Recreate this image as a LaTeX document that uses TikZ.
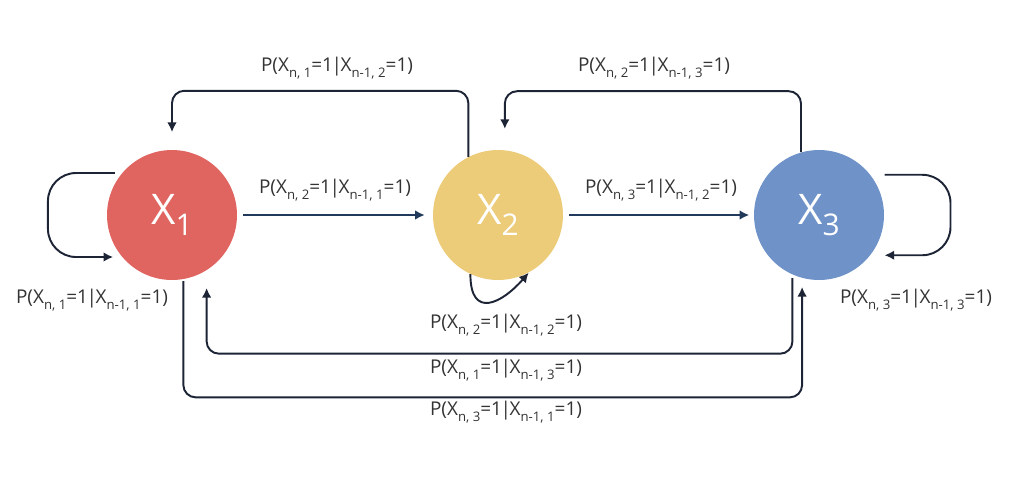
\documentclass[tikz,border=0pt]{standalone}
\usepackage{fontspec}
\setmainfont{Open Sans}
\usetikzlibrary{arrows.meta}

\definecolor{rojo}{HTML}{E0645F}
\definecolor{amarillo}{HTML}{ECCB79}
\definecolor{azul}{HTML}{6F93C9}
\definecolor{flecha}{HTML}{1D2435}
\definecolor{flujo}{HTML}{213A5B}

% subindice bajo
\newcommand{\lowidx}[1]{\raisebox{-0.55ex}{\fontsize{7.5}{7.5}\selectfont #1}}
\newcommand{\barra}{\kern-0.8pt|\kern-0.8pt}

\tikzset{
  estado/.style={circle, inner sep=0pt, minimum size=2.6cm, text=white,
                 font=\fontsize{24}{24}\selectfont},
  enlace/.style={-{Latex[length=5.5pt,width=5.5pt]}, line width=1.1pt, flecha,
                 rounded corners=7pt},
  prob/.style={font=\fontsize{10.8}{12}\selectfont, text=black!80}
}

\begin{document}
\begin{tikzpicture}[x=0.02cm, y=-0.02cm]
    \useasboundingbox (0,0) rectangle (1013,491);

    % Estados
    \node[estado, fill=rojo]     (x1) at (172,215) {X\raisebox{-0.5ex}{\fontsize{17}{17}\selectfont 1}};
    \node[estado, fill=amarillo] (x2) at (498,215) {X\raisebox{-0.5ex}{\fontsize{17}{17}\selectfont 2}};
    \node[estado, fill=azul]     (x3) at (819,215) {X\raisebox{-0.5ex}{\fontsize{17}{17}\selectfont 3}};

    % Transiciones hacia adelante
    \draw[enlace, flujo, shorten <=3.5pt, shorten >=4.5pt] (x1.east) -- (x2.west);
    \draw[enlace, flujo, shorten <=3.5pt, shorten >=2.5pt] (x2.east) -- (x3.west);
    \node[prob] (p21) at (335,190) {P(X\lowidx{n, 2}=1\barra X\lowidx{n-1, 1}=1)};
    \node[prob] (p32) at (661,190) {P(X\lowidx{n, 3}=1\barra X\lowidx{n-1, 2}=1)};

    % Lazos sobre si mismos
    \draw[enlace, rounded corners=16pt, shorten <=4pt, shorten >=5pt] (x1.140) -- ++(-74,0) |- (x1.220);
    \draw[enlace, rounded corners=16pt, shorten <=8pt, shorten >=8pt] (x3.38) -- ++(80,0) |- (x3.-38);
    \draw[enlace] (x2.-115) .. controls +(0,46) and +(-26,30) .. (x2.-62);
    \node[prob] (p11) at (92,300) {P(X\lowidx{n, 1}=1\barra X\lowidx{n-1, 1}=1)};
    \node[prob] (p22) at (506,325) {P(X\lowidx{n, 2}=1\barra X\lowidx{n-1, 2}=1)};
    \node[prob] (p33) at (916,300) {P(X\lowidx{n, 3}=1\barra X\lowidx{n-1, 3}=1)};

    % Retornos por arriba
    \draw[enlace, shorten >=10pt] (x2.117) -- ++(0,-66) -| (x1.north);
    \draw[enlace, shorten >=12pt] (x3.106) -- ++(0,-61) -| (x2.84);
    \node[prob] (p12) at (337,68) {P(X\lowidx{n, 1}=1\barra X\lowidx{n-1, 2}=1)};
    \node[prob] (p23) at (654,68) {P(X\lowidx{n, 2}=1\barra X\lowidx{n-1, 3}=1)};

    % Retornos por abajo
    \draw[enlace, shorten <=2pt, shorten >=10pt] (x3.-114) -- ++(0,79) -| (x1.-58.5);
    \draw[enlace, shorten <=1pt, shorten >=5pt] (x1.-80) -- ++(0,118) -| (x3.-105);
    \node[prob] (p13) at (506,370) {P(X\lowidx{n, 1}=1\barra X\lowidx{n-1, 3}=1)};
    \node[prob] (p31) at (506,412) {P(X\lowidx{n, 3}=1\barra X\lowidx{n-1, 1}=1)};
\end{tikzpicture}
\end{document}
